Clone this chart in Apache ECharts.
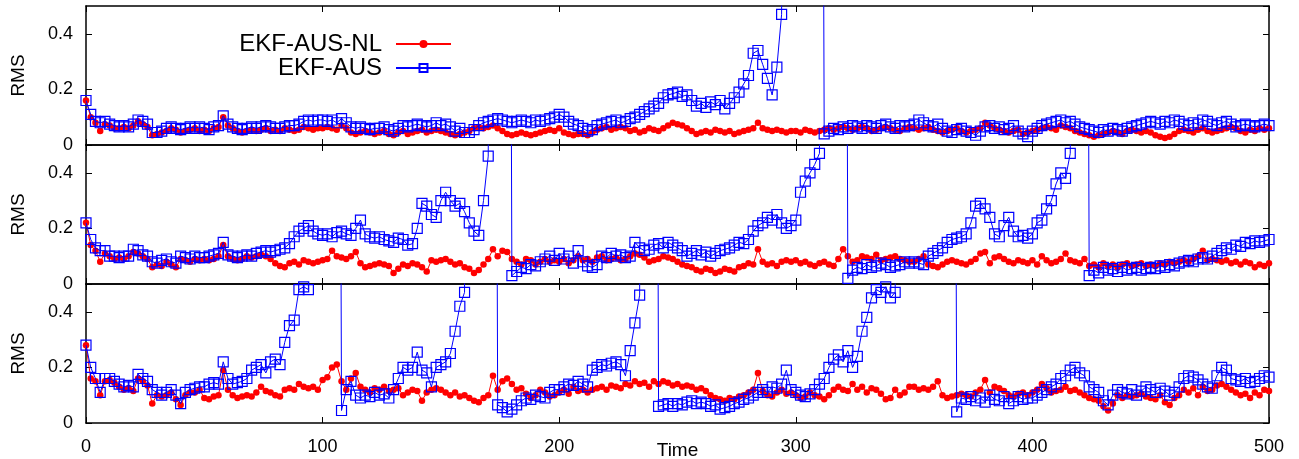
<!DOCTYPE html>
<html>
<head>
<meta charset="utf-8">
<title>RMS</title>
<script src="https://cdn.jsdelivr.net/npm/echarts@6/dist/echarts.min.js"></script>
<style>
  html, body { margin: 0; padding: 0; background: #fff; }
  #chart { width: 1299px; height: 459px; }
</style>
</head>
<body>
<div id="chart"></div>
<script>
// time axis: one reading every 2 time units, 0..500
const timeStep = 2
const time = []
for (let t = 0; t <= 500; t += timeStep) time.push(t)

// values of 5 = the run blew up, far above the top of the panel (0.5)

// panel 1
const nl1 = [
  .16,.10,.08,.05,.075,.07,.06,.06,.065,.06,.07,.085,.075,.065,.035,.04,.045,.05,.06,.055,.045,.05,.055,.06,.05,
  .055,.05,.06,.065,.1,.07,.06,.05,.045,.05,.055,.05,.055,.06,.05,.055,.05,.06,.055,.05,.055,.065,.06,.055,.06,
  .06,.065,.06,.055,.07,.06,.045,.04,.045,.05,.045,.04,.045,.05,.04,.035,.045,.05,.04,.045,.05,.055,.045,.05,.055,
  .05,.045,.04,.035,.04,.045,.05,.06,.065,.06,.065,.07,.06,.05,.04,.035,.04,.045,.04,.035,.04,.045,.05,.055,.05,
  .06,.045,.04,.035,.04,.04,.035,.045,.055,.06,.065,.055,.06,.065,.06,.05,.055,.045,.05,.06,.055,.05,.06,.07,.08,
  .075,.07,.06,.05,.04,.045,.05,.045,.055,.05,.045,.05,.04,.045,.05,.055,.06,.08,.06,.055,.05,.055,.05,.045,.05,
  .05,.045,.055,.05,.045,.05,.055,.06,.055,.06,.065,.06,.055,.06,.065,.06,.05,.055,.06,.065,.06,.055,.05,.06,.065,
  .06,.055,.06,.065,.055,.05,.045,.05,.055,.06,.05,.045,.05,.055,.06,.08,.07,.06,.055,.05,.045,.05,.055,.04,.045,
  .05,.055,.06,.065,.06,.055,.07,.065,.06,.05,.045,.04,.035,.03,.035,.04,.045,.05,.045,.04,.05,.055,.05,.045,.05,
  .045,.035,.03,.025,.03,.04,.05,.055,.05,.045,.055,.06,.05,.045,.05,.055,.06,.065,.06,.05,.045,.055,.05,.06,.055,
  .06
]
const aus1 = [
  .16,.11,.085,.08,.085,.075,.07,.065,.07,.065,.075,.09,.085,.075,.045,.045,.05,.06,.065,.06,.055,.06,.065,.06,.065,
  .06,.055,.065,.07,.105,.075,.065,.06,.055,.06,.065,.06,.065,.07,.065,.06,.06,.065,.07,.07,.075,.085,.09,.085,.09,
  .09,.085,.09,.08,.095,.08,.065,.06,.065,.06,.055,.06,.06,.065,.055,.05,.06,.07,.065,.07,.075,.07,.065,.07,.08,
  .07,.075,.065,.05,.06,.045,.045,.055,.07,.08,.085,.09,.095,.09,.085,.08,.085,.09,.085,.08,.09,.085,.09,.095,.1,
  .11,.1,.085,.075,.07,.06,.05,.055,.07,.075,.08,.085,.09,.08,.085,.095,.1,.11,.12,.13,.14,.15,.17,.18,.185,
  .19,.175,.18,.16,.14,.15,.135,.155,.145,.16,.13,.15,.17,.19,.22,.25,.33,.34,.29,.24,.18,.28,.47,5,5,
  5,5,5,5,5,5,.04,.05,.06,.055,.065,.06,.07,.065,.06,.07,.065,.06,.07,.075,.065,.06,.07,.065,.07,
  .075,.09,.08,.07,.065,.075,.06,.05,.045,.055,.06,.05,.045,.035,.05,.065,.07,.06,.065,.055,.06,.07,.05,.04,.03,
  .05,.06,.07,.075,.08,.085,.09,.08,.085,.075,.065,.06,.055,.05,.045,.055,.05,.06,.055,.05,.06,.065,.07,.075,.08,
  .085,.08,.075,.085,.08,.09,.085,.075,.07,.08,.075,.09,.085,.075,.07,.08,.085,.075,.065,.07,.075,.07,.065,.07,.075,
  .07
]

// panel 2
const nl2 = [
  .22,.14,.12,.08,.11,.1,.09,.095,.09,.1,.115,.11,.1,.09,.06,.07,.065,.08,.07,.06,.09,.085,.08,.09,.085,
  .09,.085,.09,.1,.14,.1,.09,.085,.09,.1,.095,.1,.105,.1,.09,.075,.065,.06,.075,.08,.07,.085,.08,.075,.08,
  .085,.09,.12,.1,.095,.09,.1,.115,.075,.06,.065,.07,.075,.07,.065,.04,.055,.07,.065,.075,.07,.06,.045,.085,.08,
  .085,.09,.08,.07,.075,.06,.055,.04,.05,.07,.09,.125,.1,.12,.115,.09,.08,.07,.09,.085,.07,.08,.09,.08,.085,
  .08,.09,.075,.085,.1,.085,.09,.08,.095,.1,.085,.09,.095,.085,.09,.1,.11,.105,.095,.08,.085,.09,.1,.095,.09,
  .08,.07,.065,.06,.05,.045,.055,.05,.04,.045,.055,.05,.045,.06,.065,.075,.07,.125,.08,.07,.075,.065,.08,.085,.08,
  .085,.075,.08,.07,.065,.075,.08,.07,.065,.09,.125,.1,.08,.085,.1,.095,.09,.105,.085,.09,.095,.1,.09,.085,.08,
  .08,.09,.1,.07,.065,.06,.07,.08,.085,.08,.075,.07,.08,.09,.11,.115,.075,.095,.1,.09,.08,.075,.085,.08,.075,
  .085,.07,.1,.085,.075,.08,.09,.11,.085,.08,.075,.09,.065,.07,.06,.075,.065,.07,.06,.07,.075,.065,.07,.075,.065,
  .07,.065,.075,.07,.08,.075,.08,.085,.08,.09,.1,.12,.085,.09,.085,.08,.085,.075,.08,.07,.08,.075,.06,.07,.065,
  .075
]
const aus2 = [
  .22,.16,.13,.12,.12,.1,.1,.095,.1,.1,.125,.12,.105,.1,.08,.075,.085,.09,.08,.075,.1,.095,.09,.1,.095,
  .095,.1,.105,.11,.15,.105,.1,.095,.1,.105,.1,.11,.115,.12,.115,.12,.125,.13,.145,.17,.19,.2,.21,.19,.18,
  .175,.18,.17,.185,.19,.18,.175,.2,.23,.18,.17,.165,.17,.16,.155,.15,.165,.16,.14,.145,.2,.29,.28,.25,.24,
  .3,.33,.3,.28,.29,.26,.22,.19,.175,.3,.46,5,5,5,5,.03,.045,.06,.055,.07,.065,.08,.09,.1,.085,
  .11,.09,.1,.075,.12,.08,.065,.06,.07,.1,.095,.11,.1,.105,.095,.1,.15,.13,.12,.125,.14,.145,.13,.15,.14,
  .13,.12,.1,.11,.12,.105,.115,.1,.11,.12,.125,.13,.14,.15,.145,.16,.19,.21,.22,.24,.23,.25,.22,.2,.21,
  .23,.33,.37,.4,.43,.47,5,5,5,5,5,.02,.05,.06,.055,.07,.06,.065,.075,.07,.06,.065,.07,.08,.075,
  .08,.075,.07,.1,.11,.12,.13,.15,.16,.165,.17,.18,.22,.28,.29,.27,.24,.18,.17,.21,.24,.19,.17,.175,.165,
  .18,.22,.23,.27,.3,.36,.4,.38,.47,5,5,5,.03,.05,.04,.06,.05,.055,.045,.06,.05,.055,.06,.05,.055,
  .06,.055,.065,.06,.07,.065,.075,.08,.085,.08,.09,.095,.09,.1,.11,.12,.13,.125,.14,.135,.15,.145,.155,.15,.155,
  .16
]

// panel 3
const nl3 = [
  .28,.16,.15,.1,.15,.155,.145,.13,.12,.125,.115,.16,.15,.135,.07,.1,.095,.1,.11,.085,.065,.1,.11,.11,.12,
  .09,.085,.095,.1,.19,.12,.1,.09,.095,.1,.095,.11,.13,.115,.11,.1,.095,.12,.125,.12,.14,.13,.125,.13,.12,
  .155,.165,.2,.21,.15,.12,.16,.18,.13,.12,.11,.125,.12,.13,.115,.12,.125,.1,.11,.12,.115,.08,.11,.12,.125,
  .12,.11,.1,.11,.095,.1,.09,.08,.075,.09,.1,.17,.12,.15,.16,.14,.12,.125,.105,.09,.1,.12,.11,.095,.1,
  .11,.12,.105,.13,.115,.12,.11,.12,.125,.13,.12,.135,.13,.125,.14,.135,.15,.14,.145,.13,.15,.14,.15,.145,.135,
  .14,.13,.135,.13,.12,.125,.115,.1,.09,.085,.08,.09,.085,.095,.1,.11,.12,.18,.115,.1,.095,.11,.12,.105,.11,
  .1,.09,.095,.11,.1,.095,.085,.1,.12,.13,.12,.115,.14,.12,.13,.11,.125,.12,.105,.085,.09,.12,.1,.11,.13,
  .13,.12,.125,.12,.13,.15,.1,.09,.095,.1,.105,.1,.095,.11,.12,.155,.11,.13,.125,.115,.1,.095,.105,.11,.1,
  .11,.12,.14,.125,.11,.115,.12,.13,.115,.12,.11,.1,.09,.085,.08,.06,.045,.07,.1,.09,.1,.095,.1,.105,.095,
  .09,.085,.1,.075,.065,.09,.1,.12,.11,.125,.1,.13,.115,.12,.135,.14,.13,.12,.11,.1,.105,.09,.11,.1,.12,
  .115
]
const aus3 = [
  .28,.2,.16,.11,.16,.16,.15,.14,.13,.135,.13,.175,.16,.15,.12,.11,.1,.11,.12,.1,.07,.11,.12,.125,.13,
  .13,.14,.145,.14,.22,.16,.14,.145,.15,.16,.19,.2,.21,.18,.22,.23,.21,.29,.35,.37,.48,.49,.48,5,5,
  5,5,5,5,.045,.12,.15,.1,.09,.1,.095,.11,.1,.105,.09,.12,.16,.2,.19,.2,.255,.19,.18,.13,.2,
  .21,.22,.25,.33,.42,.47,5,5,5,5,5,5,.065,.055,.04,.05,.065,.08,.09,.085,.1,.095,.09,.11,.12,
  .12,.13,.14,.135,.15,.14,.13,.19,.2,.21,.205,.215,.22,.21,.17,.26,.36,.46,5,5,5,.06,.065,.07,.06,
  .07,.065,.075,.08,.07,.075,.07,.06,.065,.05,.055,.06,.07,.075,.085,.09,.1,.11,.12,.11,.13,.125,.14,.19,.12,
  .11,.1,.095,.105,.12,.14,.16,.2,.23,.245,.22,.26,.2,.24,.33,.38,.45,.48,.47,.49,.45,.47,5,5,5,
  5,5,5,5,5,5,5,5,5,.04,.09,.085,.095,.08,.09,.075,.1,.085,.08,.095,.07,.08,.095,.085,.09,
  .09,.1,.11,.12,.13,.14,.16,.17,.19,.2,.18,.17,.13,.12,.11,.08,.065,.1,.12,.11,.105,.12,.1,.115,.13,
  .12,.11,.125,.115,.1,.11,.13,.16,.17,.165,.155,.14,.13,.125,.17,.2,.19,.16,.155,.15,.16,.145,.15,.16,.17,
  .165
]

const FONT = 'Liberation Sans'
const panelTop = [6, 145, 284]
const panelHeight = 139
const nlPanels = [nl1, nl2, nl3]
const ausPanels = [aus1, aus2, aus3]

let chart = echarts.init(document.getElementById('chart'))

let grid = []
let xAxis = []
let yAxis = []
let series = []

const border = { show: true, onZero: false, lineStyle: { color: '#000', width: 1.5 } }
const ticks = { show: true, inside: true, length: 6, lineStyle: { color: '#000', width: 1 } }

for (let i = 0; i < 3; i++) {
    // fixed panel boxes, no automatic shrinking for labels
    grid.push({ left: 86, right: 30, top: panelTop[i], height: panelHeight, outerBoundsMode: 'none', containLabel: false })
    let last = i === 2
    // bottom axis, labels only on the last panel
    xAxis.push({
        gridIndex: i, type: 'value', position: 'bottom',
        min: 0, max: 500, interval: 100,
        axisLine: border, axisTick: ticks, splitLine: { show: false },
        axisLabel: { show: last, fontFamily: FONT, fontSize: 18, color: '#000', margin: 15 },
        name: last ? 'Time' : '', nameLocation: 'middle', nameGap: 18, nameMoveOverlap: false,
        nameTextStyle: { fontFamily: FONT, fontSize: 19, color: '#000' }
    })
    yAxis.push({
        gridIndex: i, type: 'value', position: 'left',
        min: 0, max: 0.5, interval: 0.2,
        axisLine: border, axisTick: ticks, splitLine: { show: false },
        axisLabel: { fontFamily: FONT, fontSize: 18, color: '#000', margin: 13, showMaxLabel: false },
        name: 'RMS', nameLocation: 'middle', nameGap: 58,
        nameTextStyle: { fontFamily: FONT, fontSize: 19, color: '#000' }
    })
    series.push({
        name: 'EKF-AUS-NL', type: 'line', xAxisIndex: i, yAxisIndex: i,
        data: time.map((t, k) => [t, nlPanels[i][k]]),
        symbol: 'circle', symbolSize: 6.5, showAllSymbol: true, clip: true,
        itemStyle: { color: '#ff0000' },
        lineStyle: { color: '#ff0000', width: 1 },
        z: 2
    })
    series.push({
        name: 'EKF-AUS', type: 'line', xAxisIndex: i, yAxisIndex: i,
        data: time.map((t, k) => [t, ausPanels[i][k]]),
        symbol: 'rect', symbolSize: 10, showAllSymbol: true, clip: true,
        itemStyle: { color: 'rgba(0,0,0,0)', borderColor: '#0000ff', borderWidth: 1.2 },
        lineStyle: { color: '#0000ff', width: 1 },
        z: 3
    })
}
// mirrored ticks on the top and right of every panel
for (let i = 0; i < 3; i++) {
    xAxis.push({
        gridIndex: i, type: 'value', position: 'top',
        min: 0, max: 500, interval: 100,
        axisLine: border, axisTick: ticks, axisLabel: { show: false }, splitLine: { show: false }
    })
    yAxis.push({
        gridIndex: i, type: 'value', position: 'right',
        min: 0, max: 0.5, interval: 0.2,
        axisLine: border, axisTick: ticks, axisLabel: { show: false }, splitLine: { show: false }
    })
}

chart.setOption({
    animation: false,
    backgroundColor: '#fff',
    grid: grid,
    xAxis: xAxis,
    yAxis: yAxis,
    legend: {
        data: ['EKF-AUS-NL', 'EKF-AUS'],
        orient: 'vertical', align: 'right',
        right: 847, top: 32,
        itemWidth: 55, itemHeight: 10, itemGap: 0, padding: 0,
        selectedMode: false,
        textStyle: { fontFamily: FONT, fontSize: 24, color: '#000', lineHeight: 19, padding: [0, 9, 0, 0] }
    },
    series: series
})
</script>
</body>
</html>
